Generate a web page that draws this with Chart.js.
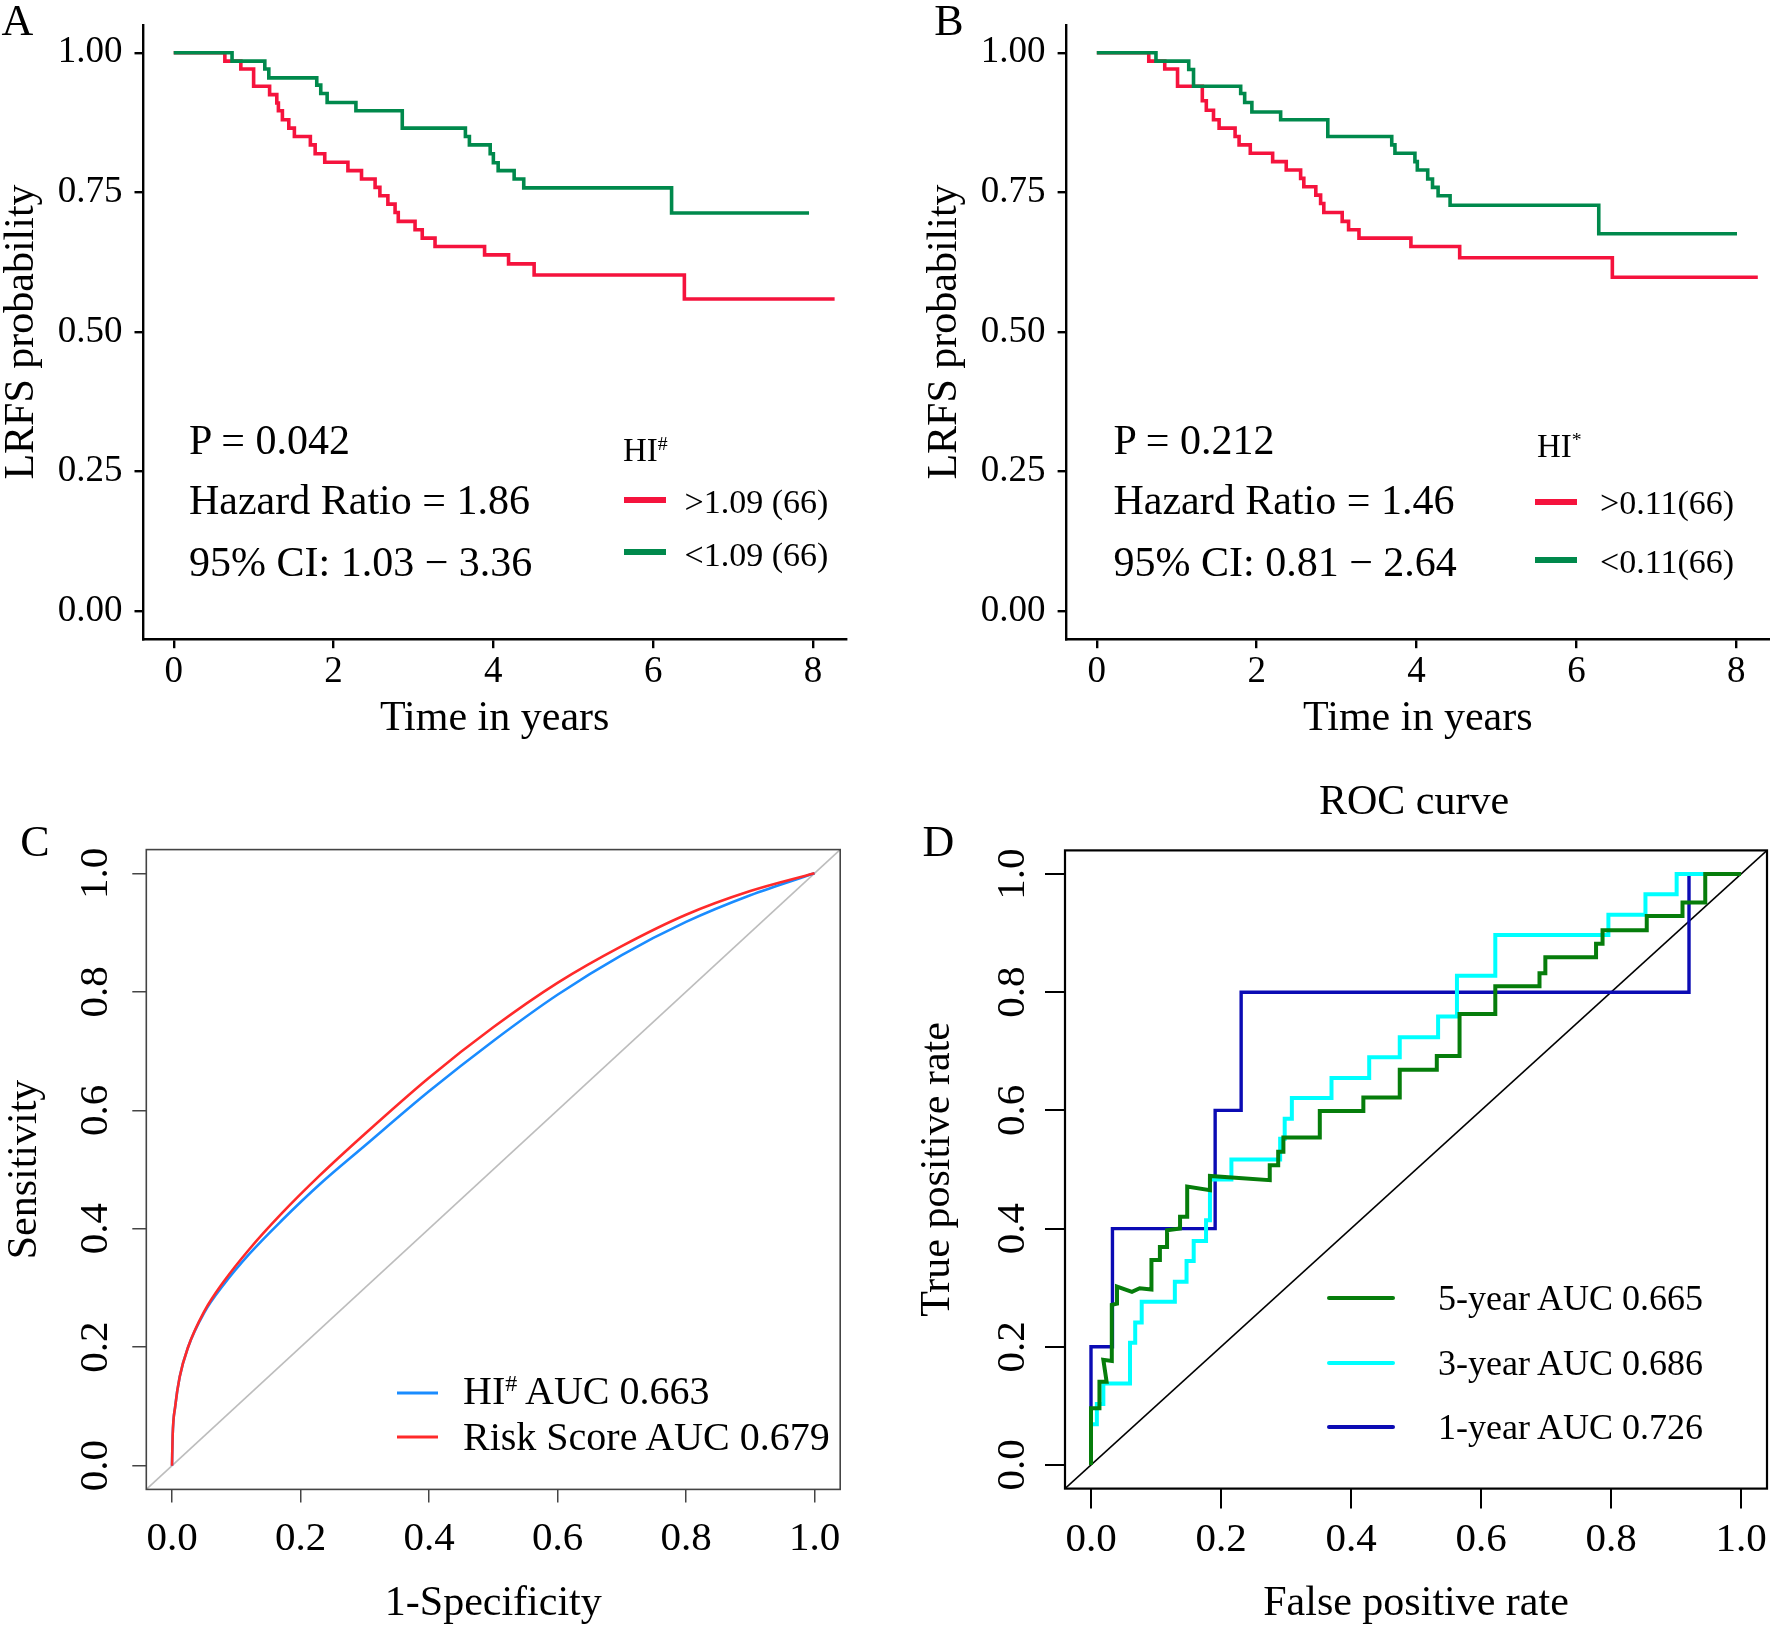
<!DOCTYPE html>
<html>
<head>
<meta charset="utf-8">
<script src="https://cdn.jsdelivr.net/npm/chart.js"></script>
<style>
  html, body { margin: 0; padding: 0; background: #fff; }
  body { width: 1770px; height: 1627px; position: relative; overflow: hidden;
         font-family: "Liberation Serif", "Times New Roman", serif; color: #000; }
  canvas { position: absolute; }
  .tl { position: absolute; line-height: 1; white-space: nowrap; transform: translateY(-50%); }
  .tc { position: absolute; line-height: 1; white-space: nowrap; transform: translate(-50%, -50%); }
  .key { position: absolute; transform: translateY(-50%); }
  sup { font-size: 0.6em; vertical-align: baseline; position: relative; top: -0.55em; }
</style>
</head>
<body>
<canvas id="cA" width="885" height="760" style="left:0;top:0"></canvas>
<canvas id="cB" width="885" height="760" style="left:885px;top:0"></canvas>
<canvas id="cC" width="885" height="867" style="left:0;top:760px"></canvas>
<canvas id="cD" width="885" height="867" style="left:885px;top:760px"></canvas>

<!-- panel letters -->
<div class="tc" style="left:17.5px;top:21px;font-size:44px">A</div>
<div class="tc" style="left:949px;top:21px;font-size:44px">B</div>
<div class="tc" style="left:35px;top:842px;font-size:44px">C</div>
<div class="tc" style="left:938.5px;top:842px;font-size:44px">D</div>

<!-- A annotations + legend -->
<div class="tl" style="left:189px;top:440px;font-size:42px">P = 0.042</div>
<div class="tl" style="left:189px;top:500px;font-size:42px">Hazard Ratio = 1.86</div>
<div class="tl" style="left:189px;top:562px;font-size:42px">95% CI: 1.03 − 3.36</div>
<div class="tl" style="left:623px;top:450px;font-size:33px">HI<sup>#</sup></div>
<div class="key" style="left:623.5px;top:500px;width:42px;height:6px;background:#F5133D"></div>
<div class="tl" style="left:684.5px;top:502px;font-size:34px">&gt;1.09 (66)</div>
<div class="key" style="left:623.5px;top:552px;width:42px;height:6px;background:#00894C"></div>
<div class="tl" style="left:684.5px;top:555px;font-size:34px">&lt;1.09 (66)</div>

<!-- B annotations + legend -->
<div class="tl" style="left:1113.5px;top:440px;font-size:42px">P = 0.212</div>
<div class="tl" style="left:1113.5px;top:500px;font-size:42px">Hazard Ratio = 1.46</div>
<div class="tl" style="left:1113.5px;top:562px;font-size:42px">95% CI: 0.81 − 2.64</div>
<div class="tl" style="left:1537px;top:446px;font-size:33px">HI<sup>*</sup></div>
<div class="key" style="left:1535px;top:501.5px;width:42px;height:6px;background:#F5133D"></div>
<div class="tl" style="left:1600px;top:503px;font-size:34px">&gt;0.11(66)</div>
<div class="key" style="left:1535px;top:560px;width:42px;height:6px;background:#00894C"></div>
<div class="tl" style="left:1600px;top:561.5px;font-size:34px">&lt;0.11(66)</div>

<!-- C legend -->
<div class="key" style="left:397px;top:1393px;width:41px;height:3px;background:#1A8CFF"></div>
<div class="tl" style="left:463px;top:1391px;font-size:40px">HI<sup>#</sup> AUC 0.663</div>
<div class="key" style="left:397px;top:1437px;width:41px;height:3px;background:#FF2A2A"></div>
<div class="tl" style="left:463px;top:1437px;font-size:40px">Risk Score AUC 0.679</div>

<!-- D title + legend -->
<div class="tc" style="left:1414px;top:800px;font-size:42px">ROC curve</div>
<div class="key" style="left:1327px;top:1298px;width:68px;height:4px;border-radius:2px;background:#067D0B"></div>
<div class="tl" style="left:1438px;top:1298px;font-size:36px">5-year AUC 0.665</div>
<div class="key" style="left:1327px;top:1362.5px;width:68px;height:4px;border-radius:2px;background:#00FFFF"></div>
<div class="tl" style="left:1438px;top:1362.5px;font-size:36px">3-year AUC 0.686</div>
<div class="key" style="left:1327px;top:1427px;width:68px;height:4px;border-radius:2px;background:#0B0BB4"></div>
<div class="tl" style="left:1438px;top:1427px;font-size:36px">1-year AUC 0.726</div>

<script>
// ---- data ----
// A: Kaplan-Meier LRFS, HI# split at 1.09
const timeA_high = [0, 0.64, 0.84, 1.0, 1.2, 1.29, 1.31, 1.36, 1.44, 1.51, 1.71, 1.77, 1.89, 2.18, 2.35, 2.52, 2.58, 2.68, 2.77, 2.81, 3.02, 3.11, 3.27, 3.89, 4.19, 4.51, 6.39, 8.27];
const survA_high = [1, 0.985, 0.971, 0.94, 0.925, 0.91, 0.896, 0.88, 0.865, 0.85, 0.835, 0.819, 0.804, 0.789, 0.774, 0.759, 0.744, 0.729, 0.714, 0.698, 0.683, 0.668, 0.653, 0.638, 0.622, 0.602, 0.559, 0.559];
const timeA_low = [0, 0.73, 1.14, 1.19, 1.79, 1.84, 1.92, 2.28, 2.86, 3.65, 3.70, 3.96, 4.0, 4.06, 4.26, 4.38, 6.23, 7.95];
const survA_low = [1, 0.985, 0.971, 0.955, 0.942, 0.927, 0.911, 0.896, 0.865, 0.85, 0.835, 0.819, 0.803, 0.789, 0.774, 0.758, 0.713, 0.713];

// B: Kaplan-Meier LRFS, HI* split at 0.11
const timeB_high = [0, 0.65, 0.85, 1.01, 1.32, 1.37, 1.46, 1.53, 1.73, 1.78, 1.92, 2.20, 2.37, 2.55, 2.59, 2.74, 2.80, 2.84, 3.07, 3.15, 3.28, 3.93, 4.54, 6.45, 8.27];
const survB_high = [1, 0.985, 0.971, 0.94, 0.914, 0.897, 0.88, 0.865, 0.85, 0.835, 0.82, 0.805, 0.79, 0.775, 0.76, 0.745, 0.73, 0.714, 0.698, 0.683, 0.668, 0.653, 0.633, 0.598, 0.598];
const timeB_low = [0, 0.74, 1.15, 1.21, 1.80, 1.85, 1.94, 2.30, 2.89, 3.69, 3.73, 3.98, 4.01, 4.14, 4.20, 4.27, 4.42, 6.28, 8.01];
const survB_low = [1, 0.985, 0.97, 0.94, 0.927, 0.911, 0.894, 0.88, 0.85, 0.835, 0.82, 0.805, 0.79, 0.774, 0.759, 0.744, 0.727, 0.676, 0.676];

// C: smoothed ROC curves
const fprC = [0, 0.001, 0.005, 0.012, 0.025, 0.05, 0.08, 0.12, 0.17, 0.23, 0.3, 0.4, 0.5, 0.6, 0.7, 0.8, 0.9, 1];
const tprC_risk = [0, 0.05, 0.1, 0.15, 0.2, 0.26, 0.31, 0.365, 0.425, 0.49, 0.56, 0.655, 0.74, 0.815, 0.877, 0.93, 0.97, 1];
const tprC_hi = [0, 0.05, 0.1, 0.15, 0.2, 0.258, 0.305, 0.357, 0.413, 0.475, 0.54, 0.632, 0.717, 0.795, 0.862, 0.918, 0.963, 1];

// D: time-dependent ROC curves
const fprD_1y = [0, 0, 0.033, 0.033, 0.191, 0.191, 0.231, 0.231, 0.92, 0.92, 1];
const tprD_1y = [0, 0.2, 0.2, 0.4, 0.4, 0.6, 0.6, 0.8, 0.8, 1, 1];
const fprD_3y = [0, 0, 0.009, 0.009, 0.019, 0.019, 0.06, 0.06, 0.068, 0.068, 0.078, 0.078, 0.129, 0.129, 0.147, 0.147, 0.158, 0.158, 0.177, 0.177, 0.183, 0.183, 0.216, 0.216, 0.291, 0.291, 0.298, 0.298, 0.309, 0.309, 0.37, 0.37, 0.428, 0.428, 0.475, 0.475, 0.534, 0.534, 0.563, 0.563, 0.622, 0.622, 0.796, 0.796, 0.853, 0.853, 0.901, 0.901, 1];
const tprD_3y = [0, 0.069, 0.069, 0.103, 0.103, 0.138, 0.138, 0.207, 0.207, 0.241, 0.241, 0.276, 0.276, 0.31, 0.31, 0.345, 0.345, 0.379, 0.379, 0.414, 0.414, 0.483, 0.483, 0.517, 0.517, 0.552, 0.552, 0.586, 0.586, 0.621, 0.621, 0.655, 0.655, 0.69, 0.69, 0.724, 0.724, 0.759, 0.759, 0.828, 0.828, 0.897, 0.897, 0.931, 0.931, 0.966, 0.966, 1, 1];
const fprD_5y = [0, 0, 0.013, 0.013, 0.024, 0.019, 0.032, 0.032, 0.04, 0.04, 0.063, 0.075, 0.093, 0.093, 0.106, 0.106, 0.117, 0.117, 0.137, 0.137, 0.148, 0.148, 0.183, 0.183, 0.275, 0.275, 0.288, 0.288, 0.296, 0.296, 0.352, 0.352, 0.419, 0.419, 0.475, 0.475, 0.532, 0.532, 0.567, 0.567, 0.622, 0.622, 0.69, 0.69, 0.699, 0.699, 0.777, 0.777, 0.787, 0.787, 0.855, 0.855, 0.91, 0.91, 0.945, 0.945, 1];
const tprD_5y = [0, 0.096, 0.096, 0.141, 0.141, 0.178, 0.176, 0.271, 0.273, 0.302, 0.293, 0.299, 0.297, 0.347, 0.347, 0.369, 0.369, 0.397, 0.4, 0.42, 0.42, 0.471, 0.465, 0.489, 0.482, 0.507, 0.507, 0.53, 0.53, 0.554, 0.554, 0.599, 0.599, 0.622, 0.622, 0.669, 0.669, 0.692, 0.692, 0.763, 0.763, 0.81, 0.81, 0.832, 0.832, 0.859, 0.859, 0.882, 0.882, 0.905, 0.905, 0.929, 0.929, 0.952, 0.952, 1, 1];

// tick values
const kmXTicks = [0, 2, 4, 6, 8];
const kmYTicks = [0, 0.25, 0.5, 0.75, 1];
const rocTicks = [0, 0.2, 0.4, 0.6, 0.8, 1];

// ---- drawing ----
const SERIF = "'Liberation Serif', 'Times New Roman', serif";
const RED = '#F5133D', GREEN = '#00894C';

function xy(xs, ys) {
  return xs.map((v, i) => ({ x: v, y: ys[i] }));
}

// pin the axis box size and tick positions so the plot area lands where the figure has it
function fixAxis(size, values) {
  return {
    afterBuildTicks: s => { s.ticks = values.map(v => ({ value: v })); },
    afterFit: s => {
      if (s.isHorizontal()) s.height = size; else s.width = size;
      s.paddingLeft = s.paddingRight = s.paddingTop = s.paddingBottom = 0;
    }
  };
}

function kmChart(id, lay, high, low) {
  const grid = { display: true, drawOnChartArea: false, drawTicks: true, tickLength: 9, tickColor: '#000', lineWidth: 2.4 };
  const border = { display: true, color: '#000', width: 2.4 };
  const tickFont = { family: SERIF, size: 37, lineHeight: 1 };
  const titleFont = { family: SERIF, size: 42, lineHeight: 1 };
  return new Chart(document.getElementById(id), {
    type: 'line',
    data: {
      datasets: [
        { data: low, borderColor: GREEN, borderWidth: 3.6, stepped: 'before', pointRadius: 0, fill: false },
        { data: high, borderColor: RED, borderWidth: 3.6, stepped: 'before', pointRadius: 0, fill: false }
      ]
    },
    options: {
      responsive: false, animation: false, devicePixelRatio: 1,
      layout: { padding: { left: 0, bottom: 0, top: lay.top, right: lay.right } },
      plugins: { legend: { display: false }, tooltip: { enabled: false } },
      scales: {
        x: Object.assign({
          type: 'linear', min: -0.378, max: 8.41, grid: grid, border: border,
          ticks: { font: tickFont, color: '#000', padding: 6, maxRotation: 0, autoSkip: false, callback: v => String(v) },
          title: { display: true, text: 'Time in years', color: '#000', font: titleFont, padding: { top: 0, bottom: 20 } }
        }, fixAxis(lay.xh, kmXTicks)),
        y: Object.assign({
          type: 'linear', min: -0.05, max: 1.05, grid: grid, border: border,
          ticks: { font: tickFont, color: '#000', padding: 12, autoSkip: false, callback: v => v.toFixed(2) },
          title: { display: true, text: 'LRFS probability', color: '#000', font: titleFont, padding: { top: lay.yt, bottom: 0 } }
        }, fixAxis(lay.yw, kmYTicks))
      }
    }
  });
}

// box, y = x reference line and rotated y labels (R base style)
const rocExtras = {
  id: 'rocExtras',
  beforeDatasetsDraw(chart, args, o) {
    const { ctx, chartArea: a, scales: { x, y } } = chart;
    ctx.save();
    ctx.beginPath();
    ctx.rect(a.left, a.top, a.width, a.height);
    ctx.clip();
    ctx.strokeStyle = o.diagColor;
    ctx.lineWidth = o.diagWidth;
    ctx.beginPath();
    ctx.moveTo(x.getPixelForValue(x.min), y.getPixelForValue(x.min));
    ctx.lineTo(x.getPixelForValue(x.max), y.getPixelForValue(x.max));
    ctx.stroke();
    ctx.restore();
  },
  afterDraw(chart, args, o) {
    const { ctx, chartArea: a, scales: { y } } = chart;
    ctx.save();
    ctx.strokeStyle = o.boxColor;
    ctx.lineWidth = o.boxWidth;
    ctx.strokeRect(a.left, a.top, a.width, a.height);
    ctx.fillStyle = '#000';
    ctx.font = '41px ' + SERIF;
    ctx.textAlign = 'center';
    ctx.textBaseline = 'middle';
    rocTicks.forEach(v => {
      ctx.save();
      ctx.translate(o.labelX, y.getPixelForValue(v));
      ctx.rotate(-Math.PI / 2);
      ctx.fillText(v.toFixed(1), 0, 0);
      ctx.restore();
    });
    ctx.restore();
  }
};

function rocChart(id, lay, datasets, o) {
  const grid = { display: true, drawOnChartArea: false, drawTicks: true, tickLength: o.tick, tickColor: o.axisColor, lineWidth: o.tickWidth };
  const titleFont = { family: SERIF, size: 42, lineHeight: 1 };
  return new Chart(document.getElementById(id), {
    type: 'line',
    data: { datasets: datasets },
    options: {
      responsive: false, animation: false, devicePixelRatio: 1,
      layout: { padding: { left: 0, bottom: 0, top: lay.top, right: lay.right } },
      plugins: {
        legend: { display: false }, tooltip: { enabled: false },
        rocExtras: { boxColor: o.axisColor, boxWidth: o.boxWidth, diagColor: o.diagColor, diagWidth: o.diagWidth, labelX: o.labelX }
      },
      scales: {
        x: Object.assign({
          type: 'linear', min: -0.04, max: 1.04, grid: grid, border: { display: false },
          ticks: { font: { family: SERIF, size: 41, lineHeight: 1 }, color: '#000', padding: o.xPad, maxRotation: 0, autoSkip: false, callback: v => v.toFixed(1) },
          title: { display: true, text: o.xTitle, color: '#000', font: titleFont, padding: { top: 0, bottom: o.xtb } }
        }, fixAxis(lay.xh, rocTicks)),
        y: Object.assign({
          type: 'linear', min: -0.04, max: 1.04, grid: Object.assign({}, grid, { tickLength: o.ytick }), border: { display: false },
          ticks: { display: false },
          title: { display: true, text: o.yTitle, color: '#000', font: titleFont, padding: { top: o.ytt, bottom: 0 } }
        }, fixAxis(lay.yw, rocTicks))
      }
    },
    plugins: [rocExtras]
  });
}

kmChart('cA', { top: 24.8, right: 39.2, yw: 143.5, xh: 120.8, yt: 1 },
  xy(timeA_high, survA_high), xy(timeA_low, survA_low));
kmChart('cB', { top: 24.8, right: 1, yw: 181.6, xh: 120.8, yt: 39 },
  xy(timeB_high, survB_high), xy(timeB_low, survB_low));

rocChart('cC', { top: 89.6, right: 44.8, yw: 146.3, xh: 137.6 }, [
  { data: xy(fprC, tprC_risk), borderColor: '#FF2A2A', borderWidth: 2.6, pointRadius: 0, cubicInterpolationMode: 'monotone', fill: false },
  { data: xy(fprC, tprC_hi), borderColor: '#1A8CFF', borderWidth: 2.6, pointRadius: 0, cubicInterpolationMode: 'monotone', fill: false }
], { tick: 13, ytick: 14, tickWidth: 1.5, axisColor: '#444', boxWidth: 1.6, diagColor: '#BDBDBD', diagWidth: 1.6,
     labelX: 96, xPad: 16, xtb: 2, ytt: 4, xTitle: '1-Specificity', yTitle: 'Sensitivity' });

rocChart('cD', { top: 90.4, right: 3, yw: 180, xh: 138.4 }, [
  { data: xy(fprD_5y, tprD_5y), borderColor: '#067D0B', borderWidth: 4, pointRadius: 0, tension: 0, fill: false },
  { data: xy(fprD_3y, tprD_3y), borderColor: '#00FFFF', borderWidth: 4, pointRadius: 0, tension: 0, fill: false },
  { data: xy(fprD_1y, tprD_1y), borderColor: '#0B0BB4', borderWidth: 3.4, pointRadius: 0, tension: 0, fill: false }
], { tick: 20, ytick: 20, tickWidth: 2, axisColor: '#000', boxWidth: 2.2, diagColor: '#000', diagWidth: 1.6,
     labelX: 128, xPad: 11, xtb: 2, ytt: 32, xTitle: 'False positive rate', yTitle: 'True positive rate' });
</script>
</body>
</html>
